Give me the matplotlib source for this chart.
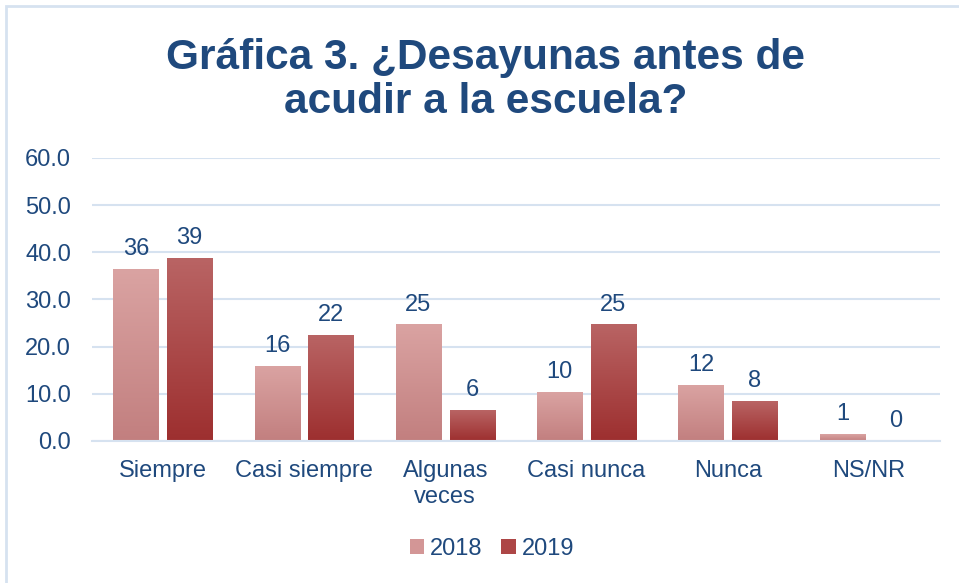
import numpy as np
import matplotlib
matplotlib.use('Agg')
import matplotlib.pyplot as plt
from matplotlib.patches import Patch, Rectangle
from matplotlib.colors import LinearSegmentedColormap

plt.rcParams['font.family'] = ['Liberation Sans', 'DejaVu Sans']

# datos
categorias = ['Siempre', 'Casi siempre', 'Algunas\nveces', 'Casi nunca', 'Nunca', 'NS/NR']
valores_2018 = [36.3, 15.9, 24.6, 10.2, 11.7, 1.4]
valores_2019 = [38.8, 22.4, 6.4, 24.6, 8.3, 0.0]
series = ['2018', '2019']

azul = '#1f497d'
grid_color = '#d6e2f0'

# gradientes (abajo -> arriba)
cmap_2018 = LinearSegmentedColormap.from_list('c18', ['#c27f7f', '#daa3a2'])
cmap_2019 = LinearSegmentedColormap.from_list('c19', ['#9d2f2f', '#b96464'])

fig = plt.figure(figsize=(9.59, 5.83), dpi=100)
ax = fig.add_axes([0.096, 0.2436, 0.884, 0.4854])

x = np.arange(len(categorias))
ancho = 0.32
desp = 0.19
grad = np.linspace(0, 1, 256).reshape(-1, 1)

for vals, off, cmap in [(valores_2018, -desp, cmap_2018), (valores_2019, desp, cmap_2019)]:
    for xi, v in zip(x, vals):
        if v > 0:
            ax.imshow(grad, cmap=cmap, origin='lower', aspect='auto',
                      extent=(xi + off - ancho / 2, xi + off + ancho / 2, 0, v), zorder=2)
        ax.text(xi + off, v + 2.0, f'{v:.0f}', ha='center', va='bottom',
                fontsize=17, color=azul, zorder=3)

ax.set_xlim(-0.5, len(categorias) - 0.5)
ax.set_ylim(0, 60)
ax.set_yticks(np.arange(0, 61, 10))
ax.set_yticklabels([f'{t:.1f}' for t in np.arange(0, 61, 10)])
ax.set_xticks(x)
ax.set_xticklabels(categorias, va='top', linespacing=1.2)
ax.tick_params(axis='both', length=0, labelsize=17, labelcolor=azul)
ax.tick_params(axis='x', pad=14)
ax.tick_params(axis='y', pad=15)
ax.grid(axis='y', color=grid_color, linewidth=1.5, zorder=0)
ax.set_axisbelow(True)
for s in ['top', 'right', 'left']:
    ax.spines[s].set_visible(False)
ax.spines['bottom'].set_color(grid_color)
ax.spines['bottom'].set_linewidth(1.5)

fig.text(0.506, 0.863, 'Gráfica 3. ¿Desayunas antes de\nacudir a la escuela?',
         ha='center', va='center', fontsize=30.5, fontweight='bold', color=azul,
         linespacing=1.15)

handles = [Patch(facecolor='#d39696', edgecolor='none'), Patch(facecolor='#ad4646', edgecolor='none')]
fig.legend(handles, series, loc='center', bbox_to_anchor=(0.513, 0.058), ncol=2, frameon=False,
           fontsize=17, handlelength=0.6, handleheight=0.6, handletextpad=0.25, columnspacing=0.8,
           labelcolor=azul)

# marco del gráfico
fig.patches.append(Rectangle((0.006, -0.1), 1.2, 1.0897, transform=fig.transFigure,
                             fill=False, edgecolor=grid_color, linewidth=2))

fig.savefig('out.png', dpi=100)
